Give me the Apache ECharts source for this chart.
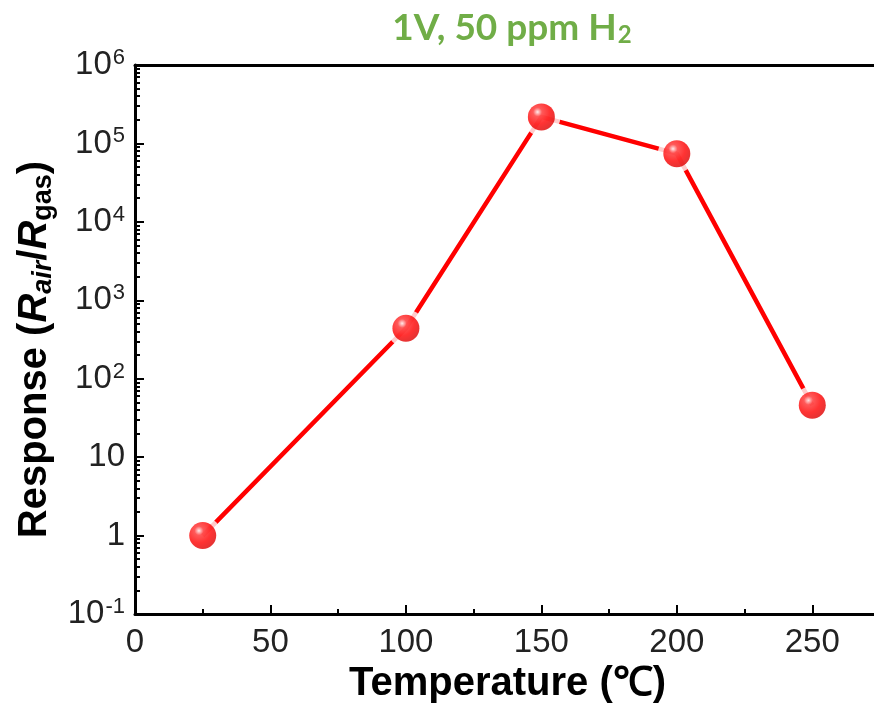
<!DOCTYPE html>
<html>
<head>
<meta charset="utf-8">
<script src="https://cdn.jsdelivr.net/npm/echarts@6/dist/echarts.min.js"></script>
<style>
  html, body { margin: 0; padding: 0; background: #fff; }
  #chart { width: 874px; height: 709px; }
</style>
</head>
<body>
<div id="chart"></div>
<script>
// Operating temperature (°C) and sensor response Rair/Rgas at 1 V, 50 ppm H2
const temperatures = [25, 100, 150, 200, 250];
const responses = [1, 440, 218000, 74000, 46];

// Log axis range (decades)
const yMinExp = -1;
const yMaxExp = 6;
const xMax = 275;

const points = temperatures.map((t, i) => [t, responses[i]]);

// Positions of the 2..9 minor ticks within each decade (in log10 units)
const minorTickLogs = [];
for (let d = yMinExp; d < yMaxExp; d++) {
  for (let k = 2; k <= 9; k++) minorTickLogs.push(d + Math.log10(k));
}

const labelFont = 'Liberation Sans, Arial, sans-serif';

const chart = echarts.init(document.getElementById('chart'), null, { renderer: 'canvas' });

const sphere = {
  type: 'radial', x: 0.36, y: 0.32, r: 0.75,
  colorStops: [
    { offset: 0, color: '#ffe6e6' },
    { offset: 0.22, color: '#ff3030' },
    { offset: 0.6, color: '#ff0000' },
    { offset: 1, color: '#d80000' }
  ]
};

chart.setOption({
  backgroundColor: '#ffffff',
  animation: false,
  title: {
    text: '{m|1V, 50 ppm H}{s|2}',
    left: 507,
    textAlign: 'center',
    top: 4,
    textStyle: {
      rich: {
        m: { fontFamily: 'Lato, sans-serif', fontWeight: 'bold', fontSize: 37, color: '#70AD47' },
        s: { fontFamily: 'Lato, sans-serif', fontWeight: 'bold', fontSize: 24, color: '#70AD47', verticalAlign: 'bottom', padding: [14, 0, 0, 1] }
      }
    }
  },
  grid: {
    left: 135, top: 65, right: -6, bottom: 95,
    containLabel: false,
    outerBoundsMode: 'none'
  },
  xAxis: [
    {
      type: 'value',
      min: 0, max: xMax, interval: 50,
      name: 'Temperature (℃)',
      nameLocation: 'middle',
      nameGap: 44,
      nameTextStyle: { fontFamily: labelFont, fontWeight: 'bold', fontSize: 40, color: '#000' },
      axisLine: { show: true, onZero: false, lineStyle: { color: '#000', width: 3 } },
      axisTick: { show: true, inside: true, length: 9, lineStyle: { color: '#000', width: 2 } },
      minorTick: { show: true, splitNumber: 2, length: 5, lineStyle: { color: '#000', width: 2 } },
      axisLabel: {
        fontFamily: labelFont, fontSize: 33, color: '#222', margin: 12,
        showMaxLabel: false
      },
      splitLine: { show: false }
    },
    {
      type: 'value', position: 'top',
      min: 0, max: xMax,
      axisLine: { show: true, onZero: false, lineStyle: { color: '#000', width: 3 } },
      axisTick: { show: false },
      axisLabel: { show: false },
      splitLine: { show: false }
    }
  ],
  yAxis: [
    {
      type: 'log',
      logBase: 10,
      min: Math.pow(10, yMinExp),
      max: Math.pow(10, yMaxExp),
      interval: 1,
      name: '{n|Response (}{i|R}{si|air}{n|/}{i|R}{sub|gas}{n|)}',
      nameLocation: 'middle',
      nameRotate: 90,
      nameGap: 76,
      nameTextStyle: {
        padding: [0, 20, 0, 0],
        rich: {
          n: { fontFamily: labelFont, fontWeight: 'bold', fontSize: 40, color: '#000' },
          i: { fontFamily: labelFont, fontWeight: 'bold', fontStyle: 'italic', fontSize: 40, color: '#000' },
          si: { fontFamily: labelFont, fontWeight: 'bold', fontStyle: 'italic', fontSize: 27, color: '#000', verticalAlign: 'bottom', padding: [16, 0, 0, 0] },
          sub: { fontFamily: labelFont, fontWeight: 'bold', fontSize: 27, color: '#000', verticalAlign: 'bottom', padding: [16, 0, 0, 0] }
        }
      },
      axisLine: { show: true, onZero: false, lineStyle: { color: '#000', width: 3 } },
      axisTick: { show: true, inside: true, length: 9, lineStyle: { color: '#000', width: 2 } },
      axisLabel: {
        margin: 10,
        formatter: function (v) {
          const e = Math.round(Math.log10(v));
          if (e === 0) return '{b|1}';
          if (e === 1) return '{b|10}';
          return '{b|10}{s|' + e + '}';
        },
        rich: {
          b: { fontFamily: labelFont, fontSize: 33, color: '#222' },
          s: { fontFamily: labelFont, fontSize: 22, color: '#222', verticalAlign: 'top', padding: [0, 0, 14, 1] }
        }
      },
      splitLine: { show: false }
    },
    {
      // carries the 2..9 minor ticks of each decade
      type: 'value',
      position: 'left',
      min: yMinExp, max: yMaxExp,
      axisLine: { show: false },
      axisTick: {
        show: true, inside: true, length: 5,
        customValues: minorTickLogs,
        lineStyle: { color: '#000', width: 2 }
      },
      axisLabel: { show: false },
      splitLine: { show: false }
    }
  ],
  series: [
    {
      type: 'line',
      data: points,
      xAxisIndex: 0, yAxisIndex: 0,
      showSymbol: false,
      symbol: 'none',
      lineStyle: { color: '#ff0000', width: 4.5 },
      z: 2
    },
    {
      // white halo that opens a gap between the line and each marker
      type: 'scatter',
      data: points,
      xAxisIndex: 0, yAxisIndex: 0,
      symbol: 'circle',
      symbolSize: 38,
      itemStyle: { color: '#ffffff' },
      z: 3
    },
    {
      type: 'scatter',
      data: points,
      xAxisIndex: 0, yAxisIndex: 0,
      symbol: 'circle',
      symbolSize: 27,
      itemStyle: { color: sphere },
      z: 4
    }
  ]
});
</script>
</body>
</html>
